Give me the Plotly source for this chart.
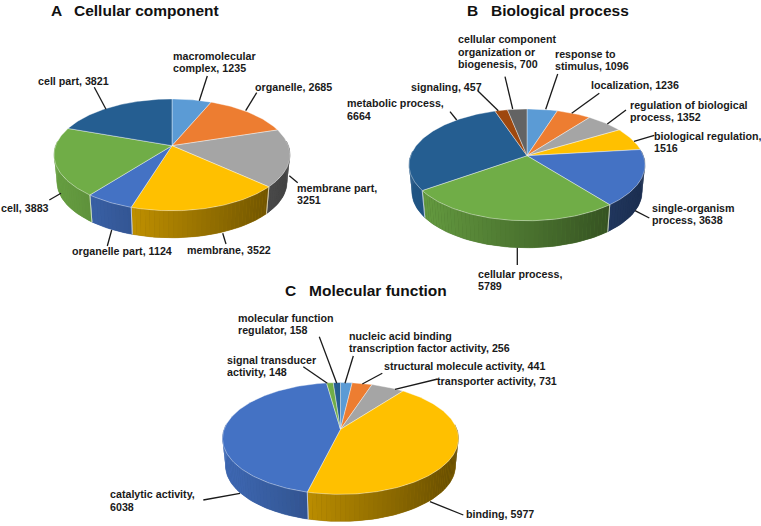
import math
import plotly.graph_objects as go

# ---- data ----
cc_names = ["macromolecular complex", "organelle", "membrane part", "membrane",
            "organelle part", "cell", "cell part"]
cc_values = [1235, 2685, 3251, 3522, 1124, 3883, 3821]
bp_names = ["response to stimulus", "localization", "regulation of biological process",
            "biological regulation", "single-organism process", "cellular process",
            "metabolic process", "signaling", "cellular component organization or biogenesis"]
bp_values = [1096, 1236, 1352, 1516, 3638, 5789, 6664, 457, 700]
mf_names = ["nucleic acid binding transcription factor activity", "structural molecule activity",
            "transporter activity", "binding", "catalytic activity", "signal transducer activity",
            "molecular function regulator"]
mf_values = [256, 441, 731, 5977, 6038, 148, 158]
colors = ["#5B9BD5", "#ED7D31", "#A5A5A5", "#FFC000", "#4472C4", "#70AD47",
          "#255E91", "#9E480E", "#636363"]

# pie placement (pixels): apex x, apex y
pies = [(cc_names, cc_values, 172.0, 145.7),
        (bp_names, bp_values, 527.0, 155.7),
        (mf_names, mf_values, 340.5, 429.3)]
K, A_X, B_Y, DEPTH, SHRINK = 0.164, 116.4, 54.4, 27.0, 0.975

titles = [("A", 50, 10.5), ("Cellular component", 73.3, 10.5),
          ("B", 465.7, 10.5), ("Biological process", 490, 10.5),
          ("C", 284, 290), ("Molecular function", 308.3, 290)]

# label: x, first-line y, text lines
labels = [
    (174, 55.7, ["macromolecular", "complex, 1235"]),
    (255.7, 86.7, ["organelle, 2685"]),
    (298, 187.7, ["membrane part,", "3251"]),
    (187.7, 249.7, ["membrane, 3522"]),
    (72.7, 251.3, ["organelle part, 1124"]),
    (2.3, 208, ["cell, 3883"]),
    (39, 81, ["cell part, 3821"]),
    (459, 39.3, ["cellular component", "organization or", "biogenesis, 700"]),
    (556, 54, ["response to", "stimulus, 1096"]),
    (591.7, 85.3, ["localization, 1236"]),
    (631, 104.7, ["regulation of biological", "process, 1352"]),
    (655, 135.7, ["biological regulation,", "1516"]),
    (652.7, 207.7, ["single-organism", "process, 3638"]),
    (478.7, 273.7, ["cellular process,", "5789"]),
    (348.3, 103.3, ["metabolic process,", "6664"]),
    (411.7, 86.7, ["signaling, 457"]),
    (239, 317.7, ["molecular function", "regulator, 158"]),
    (350.3, 335.7, ["nucleic acid binding", "transcription factor activity, 256"]),
    (384.7, 366, ["structural molecule activity, 441"]),
    (438.3, 381, ["transporter activity, 731"]),
    (466.7, 513.7, ["binding, 5977"]),
    (110.7, 494.3, ["catalytic activity,", "6038"]),
    (227.7, 359.7, ["signal transducer", "activity, 148"]),
]
# leader lines: inner x, y, outer x, y
leaders = [
    (199.3, 100.7, 207.3, 76), (245.7, 110.7, 256.7, 92.7), (289.3, 175.7, 297.7, 182.7),
    (222.7, 233.3, 226, 244), (111.7, 230, 107.3, 246), (61, 193.3, 49.3, 200),
    (106, 109.3, 94.3, 87.3),
    (545.7, 109.3, 557.7, 74), (571.7, 113.3, 599.3, 93.3), (607.3, 124, 626, 110),
    (634, 141.3, 654.3, 135.3), (635, 210.7, 649.3, 218), (517.3, 247.7, 517.3, 265),
    (456.7, 120, 450, 111.7), (498.3, 110.7, 477.7, 90.7), (512.7, 109, 505, 76.7),
    (336.7, 383.3, 319.3, 336.7), (345, 383.3, 353.3, 356), (362.3, 384, 382.3, 373.3),
    (395, 389.3, 437.7, 379), (430, 501.7, 463.3, 515), (240, 493.3, 203.3, 500),
    (327.3, 383.3, 303.3, 366.7),
]
LINE_H = 12.4


def rim(cx, ay, deg):
    t = math.radians(deg)
    u, v = math.sin(t), math.cos(t)
    w = 1 + K * v
    return cx + A_X * u / w, ay - B_Y * v / w


def low(cx, ay, deg):
    x, y = rim(cx, ay, deg)
    return cx + (x - cx) * SHRINK, y + DEPTH


def shade(hex_color, f):
    r, g, b = (int(hex_color[i:i + 2], 16) for i in (1, 3, 5))
    return f"rgb({r * f:.0f},{g * f:.0f},{b * f:.0f})"


def frange(a, b, step=2.0):
    n = max(1, math.ceil((b - a) / step))
    return [a + (b - a) * i / n for i in range(n + 1)]


fig = go.Figure()
for names, values, cx, ay in pies:
    total = sum(values)
    edges = [0.0]
    for val in values:
        edges.append(edges[-1] + val / total * 360)
    half = A_X / math.sqrt(1 - K * K)
    # side walls
    for i, name in enumerate(names):
        col = colors[i]
        a, b = max(edges[i], 85.0), min(edges[i + 1], 275.0)
        if a >= b:
            continue
        grid = frange(a, b)
        top = [rim(cx, ay, d) for d in grid]
        bot = [low(cx, ay, d) for d in grid]
        tx_mid = ((top[0][0] + top[-1][0]) / 2 - (cx - half)) / (2 * half)
        base = shade(col, 0.92 - 0.52 * tx_mid)
        poly = top + bot[::-1] + top[:1]
        fig.add_trace(go.Scatter(x=[p[0] for p in poly], y=[p[1] for p in poly],
                                 mode="lines", fill="toself", fillcolor=base,
                                 line=dict(color=base, width=0.5), hoverinfo="skip",
                                 showlegend=False))
        for j in range(len(grid) - 1):
            x0, y0 = top[j]
            x1, y1 = top[j + 1]
            x2, y2 = bot[j + 1]
            x3, y3 = bot[j]
            tx = ((x0 + x1) / 2 - (cx - half)) / (2 * half)
            c = shade(col, 0.92 - 0.52 * tx)
            fig.add_trace(go.Scatter(x=[x0, x1, x2, x3, x0], y=[y0, y1, y2, y3, y0],
                                     mode="none", fill="toself", fillcolor=c,
                                     hoverinfo="skip", showlegend=False))
        for ang in (edges[i], edges[i + 1]):
            if 90 < ang < 270:
                x0, y0 = rim(cx, ay, ang)
                x1, y1 = low(cx, ay, ang)
                fig.add_trace(go.Scatter(x=[x0, x1], y=[y0, y1], mode="lines",
                                         line=dict(color="rgba(255,255,255,0.8)", width=0.8),
                                         hoverinfo="skip", showlegend=False))
    # top faces
    for i, name in enumerate(names):
        pts = [rim(cx, ay, d) for d in frange(edges[i], edges[i + 1], 1.0)]
        xs = [cx] + [p[0] for p in pts] + [cx]
        ys = [ay] + [p[1] for p in pts] + [ay]
        fig.add_trace(go.Scatter(x=xs, y=ys, mode="lines", fill="toself",
                                 fillcolor=colors[i],
                                 line=dict(color="rgba(255,255,255,0.65)", width=0.6),
                                 name=name, text=f"{name}, {values[i]}", hoverinfo="text",
                                 showlegend=False))

shapes = [dict(type="line", x0=a, y0=b, x1=c, y1=d, xref="x", yref="y",
               line=dict(color="#1a1a1a", width=1.3)) for a, b, c, d in leaders]
annotations = []
FONT = "Liberation Sans, Arial, sans-serif"
for x, y, lines in labels:
    for j, line in enumerate(lines):
        annotations.append(dict(x=x, y=y + j * LINE_H, text=f"<b>{line}</b>", xref="x", yref="y",
                                xanchor="left", yanchor="middle", showarrow=False,
                                borderpad=0, borderwidth=0, xshift=-1,
                                font=dict(family=FONT, size=10.7, color="#1a1a1a")))
for text, x, y in titles:
    annotations.append(dict(x=x, y=y, text=f"<b>{text}</b>", xref="x", yref="y",
                            xanchor="left", yanchor="middle", showarrow=False, xshift=-1,
                            font=dict(family=FONT, size=15.5, color="#111111")))

fig.update_layout(width=761, height=526, margin=dict(l=0, r=0, t=0, b=0),
                  paper_bgcolor="white", plot_bgcolor="white", showlegend=False,
                  xaxis=dict(range=[0, 761], visible=False, fixedrange=True),
                  yaxis=dict(range=[526, 0], visible=False, fixedrange=True),
                  shapes=shapes, annotations=annotations)
fig.write_html("out.html", config=dict(displayModeBar=False),
               post_script="document.body.style.margin='0';document.documentElement.style.overflow='hidden';")
